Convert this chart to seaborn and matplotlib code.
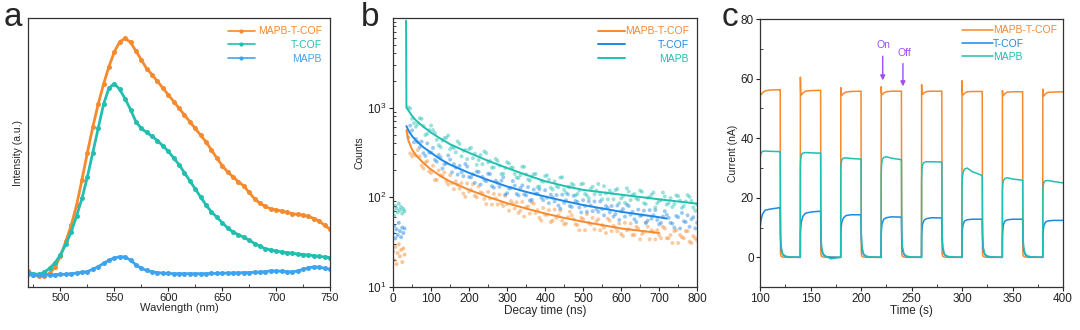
import numpy as np
import pandas as pd
import matplotlib
matplotlib.use("Agg")
import matplotlib.pyplot as plt
import seaborn as sns
from matplotlib.ticker import MultipleLocator, LogLocator, NullFormatter
from matplotlib.lines import Line2D

# ---------------- data: panel a (PL spectra) ----------------
wavelength = list(range(470, 751, 5))
pl_mapb_tcof = [0.060, 0.045, 0.040, 0.042, 0.052, 0.075, 0.115, 0.170, 0.230, 0.305, 0.400,
                0.500, 0.595, 0.680, 0.755, 0.820, 0.875, 0.912, 0.925, 0.910, 0.878, 0.845,
                0.812, 0.790, 0.765, 0.740, 0.715, 0.690, 0.665, 0.640, 0.615, 0.590, 0.565,
                0.540, 0.510, 0.480, 0.452, 0.428, 0.410, 0.392, 0.376, 0.352, 0.328, 0.312,
                0.300, 0.291, 0.287, 0.283, 0.278, 0.273, 0.270, 0.268, 0.263, 0.255, 0.245,
                0.230, 0.215]
pl_tcof = [0.054, 0.050, 0.047, 0.055, 0.070, 0.090, 0.120, 0.160, 0.205, 0.265, 0.330,
           0.410, 0.500, 0.590, 0.680, 0.740, 0.757, 0.735, 0.700, 0.660, 0.615, 0.590,
           0.575, 0.560, 0.545, 0.525, 0.505, 0.480, 0.455, 0.425, 0.395, 0.365, 0.335,
           0.305, 0.280, 0.260, 0.240, 0.220, 0.205, 0.195, 0.185, 0.175, 0.162, 0.152,
           0.143, 0.138, 0.134, 0.131, 0.128, 0.126, 0.123, 0.121, 0.119, 0.117, 0.114,
           0.112, 0.110]
pl_mapb = [0.047, 0.045, 0.045, 0.045, 0.045, 0.046, 0.047, 0.048, 0.050, 0.052, 0.055,
           0.058, 0.066, 0.076, 0.088, 0.100, 0.108, 0.113, 0.112, 0.100, 0.083, 0.070,
           0.062, 0.057, 0.054, 0.052, 0.051, 0.050, 0.050, 0.050, 0.050, 0.050, 0.050,
           0.050, 0.051, 0.051, 0.052, 0.052, 0.053, 0.053, 0.054, 0.054, 0.055, 0.056,
           0.058, 0.060, 0.060, 0.059, 0.057, 0.057, 0.060, 0.066, 0.072, 0.075, 0.074,
           0.070, 0.066]

# ---------------- data: panel b (TRPL decay) ----------------
pre_t = [0, 3, 6, 9, 12, 15, 18, 21, 24, 27, 30]
pre_mapb = [70, 62, 80, 75, 68, 85, 72, 78, 66, 74, 70]
pre_tcof = [40, 48, 35, 44, 38, 52, 42, 36, 46, 40, 45]
pre_mapb_tcof = [25, 20, 28, 18, 24, 30, 22, 26, 19, 27, 23]

decay_t = list(range(40, 801, 10))
decay_mapb = [1004, 749, 612, 759, 622, 509, 630, 520, 381, 427, 461, 343, 353, 419, 286, 336,
              344, 273, 230, 296, 325, 245, 214, 268, 226, 183, 246, 213, 182, 164, 219, 180,
              153, 181, 130, 153, 172, 157, 122, 133, 166, 121, 131, 142, 105, 119, 142, 105,
              124, 108, 141, 95, 111, 119, 95, 124, 97, 87, 116, 106, 97, 119, 86, 99, 107, 77,
              91, 113, 83, 98, 84, 103, 76, 90, 101, 77, 83]
decay_tcof = [465, 557, 447, 361, 310, 399, 316, 261, 296, 209, 239, 263, 234, 179, 190, 235,
              168, 180, 193, 139, 156, 183, 133, 153, 131, 167, 111, 127, 135, 105, 136, 105,
              92, 122, 110, 99, 120, 86, 99, 106, 75, 87, 108, 78, 91, 77, 93, 69, 81, 90, 69,
              74, 80, 68, 61, 81, 70, 61, 80, 69, 53, 62, 71, 55, 58, 72, 50, 61, 64, 52, 46,
              60, 67, 53, 47, 60, 52]
decay_mapb_tcof = [529, 286, 292, 286, 209, 253, 186, 156, 199, 172, 150, 177, 123, 138, 144,
                   101, 116, 140, 100, 114, 96, 115, 83, 97, 107, 80, 84, 91, 75, 67, 89, 77,
                   66, 85, 72, 55, 64, 72, 55, 59, 71, 50, 60, 63, 50, 43, 57, 65, 50, 44, 57,
                   49, 40, 55, 48, 42, 39, 52, 44, 38, 47, 34, 41, 47, 43, 34, 38, 47, 35, 38,
                   42, 31, 36, 42, 32, 37, 33]

decay_t2 = list(range(45, 796, 10))
decay_mapb2 = [972, 671, 656, 749, 494, 561, 561, 437, 362, 456, 489, 366, 317, 393, 330, 266,
               356, 306, 260, 234, 311, 254, 215, 254, 181, 212, 238, 214, 166, 177, 219, 158,
               169, 182, 132, 149, 176, 128, 150, 129, 167, 112, 129, 137, 109, 140, 109, 98,
               131, 119, 108, 133, 95, 111, 120, 86, 103, 126, 93, 109, 94, 115, 84, 100, 113,
               86, 93, 102, 86, 78, 105, 92, 80, 106, 91, 71]
decay_tcof2 = [629, 410, 411, 417, 289, 314, 355, 249, 278, 233, 293, 190, 214, 224, 172, 220,
               167, 145, 192, 169, 151, 182, 128, 145, 153, 107, 125, 152, 109, 127, 108, 130,
               94, 110, 123, 93, 99, 107, 90, 81, 107, 93, 80, 104, 89, 68, 80, 90, 70, 74, 90,
               63, 76, 80, 65, 56, 74, 83, 64, 57, 73, 63, 52, 72, 63, 56, 52, 70, 59, 51, 62,
               45, 54, 63, 57, 45]
decay_mapb_tcof2 = [308, 305, 336, 225, 244, 195, 225, 156, 176, 189, 139, 144, 151, 125, 110,
                    143, 121, 104, 132, 111, 84, 97, 109, 83, 86, 104, 71, 85, 88, 71, 61, 79,
                    88, 67, 59, 76, 64, 53, 73, 63, 55, 51, 69, 57, 49, 59, 43, 52, 59, 54, 43,
                    46, 58, 42, 46, 51, 37, 43, 51, 38, 45, 39, 52, 34, 41, 43, 35, 45, 35, 31,
                    43, 38, 35, 42, 31, 35]

fit_t_mapb = [34, 35, 40, 50, 60, 80, 100, 125, 150, 200, 250, 300, 350, 400, 450, 500, 600, 700, 800]
fit_mapb = [9300, 1000, 930, 805, 720, 610, 525, 450, 390, 313, 255, 212, 178, 151, 134, 121, 107, 95, 85]
fit_t_tcof = [35, 40, 50, 60, 80, 100, 125, 150, 200, 250, 300, 350, 400, 450, 500, 600, 700, 720]
fit_tcof = [622, 560, 480, 430, 360, 313, 265, 231, 187, 156, 132, 115, 102, 91, 82, 69, 60, 58]
fit_t_mt = [35, 40, 50, 60, 80, 100, 125, 150, 200, 250, 300, 350, 400, 450, 500, 600, 700]
fit_mt = [560, 430, 340, 295, 240, 204, 172, 150, 121, 101, 86, 75, 66, 59, 53.5, 45, 40]

# ---------------- data: panel c (photocurrent) ----------------
on_starts = [100, 140, 180, 220, 260, 300, 340, 380]
on_rel_t = [0, 0.3, 1.0, 2.5, 5.0, 10.0, 19.9]
off_rel_t = [20.0, 20.3, 21.0, 22.5, 25.0, 30.0, 39.9]

pc_mt_on = [[59.0, 55.0, 54.6, 55.3, 55.9, 56.2, 56.3],
            [60.5, 55.0, 54.5, 55.2, 55.8, 56.0, 56.1],
            [57.0, 55.0, 54.4, 55.0, 55.5, 55.7, 55.8],
            [57.3, 55.0, 54.6, 55.2, 55.6, 55.8, 55.8],
            [58.0, 55.2, 54.7, 55.3, 55.7, 55.8, 55.8],
            [59.3, 55.0, 54.5, 55.1, 55.6, 55.7, 55.7],
            [56.0, 54.8, 54.3, 55.0, 55.5, 55.6, 55.6],
            [56.5, 54.8, 54.2, 54.9, 55.4, 55.5, 55.6]]
pc_mt_off = [[56.3, 1.0, 0.3, 0.1, 0.0, 0.0, 0.0],
             [56.1, 1.0, 0.3, 0.1, 0.0, 0.0, 0.0],
             [55.8, 1.0, 0.3, 0.1, 0.0, 0.0, 0.0],
             [55.8, 1.0, 0.3, 0.1, 0.0, 0.0, 0.0],
             [55.8, 1.0, 0.3, 0.1, 0.0, 0.0, 0.0],
             [55.7, 1.0, 0.3, 0.1, 0.0, 0.0, 0.0],
             [55.6, 1.0, 0.3, 0.1, 0.0, 0.0, 0.0]]
pc_tcof_on = [[9.0, 10.5, 12.5, 14.5, 15.8, 16.2, 16.7],
              [8.0, 10.0, 12.0, 13.8, 14.8, 15.2, 15.5],
              [8.0, 9.8, 11.8, 13.2, 14.0, 14.3, 14.3],
              [7.5, 9.5, 11.5, 12.8, 13.3, 13.6, 13.5],
              [7.5, 9.3, 11.2, 12.5, 13.0, 13.3, 13.2],
              [7.0, 9.0, 11.0, 12.2, 12.6, 12.8, 12.8],
              [7.0, 9.0, 11.0, 12.2, 12.6, 12.8, 12.8],
              [6.8, 8.8, 10.5, 11.8, 12.2, 12.4, 12.4]]
pc_tcof_off = [[16.7, 6.0, 2.5, 0.9, 0.3, 0.05, 0.0],
               [15.5, 6.0, 2.5, 0.9, 0.3, 0.05, 0.0],
               [14.3, 6.0, 2.5, 0.9, 0.3, 0.05, 0.0],
               [13.5, 6.0, 2.5, 0.9, 0.3, 0.05, 0.0],
               [13.2, 6.0, 2.5, 0.9, 0.3, 0.05, 0.0],
               [12.8, 6.0, 2.5, 0.9, 0.3, 0.05, 0.0],
               [12.8, 6.0, 2.5, 0.9, 0.3, 0.05, 0.0]]
pc_mapb_on = [[30.0, 33.5, 35.0, 35.6, 35.7, 35.6, 35.5],
              [30.0, 33.0, 34.5, 35.0, 35.2, 35.1, 35.0],
              [29.0, 31.5, 32.8, 33.3, 33.4, 33.2, 33.0],
              [28.0, 31.0, 32.8, 33.5, 33.8, 33.3, 32.8],
              [26.0, 29.5, 31.2, 31.9, 32.1, 32.1, 32.0],
              [24.0, 26.5, 28.5, 29.6, 30.0, 28.8, 27.5],
              [22.0, 24.5, 25.8, 26.5, 26.7, 26.3, 25.9],
              [21.0, 24.0, 25.2, 25.7, 25.8, 25.5, 25.0]]
pc_mapb_off = [[35.5, 8.0, 3.5, 1.2, 0.4, 0.1, 0.0],
               [35.0, 8.0, 3.5, 1.2, 0.4, -0.5, 0.0],
               [33.0, 8.0, 3.5, 1.2, 0.4, 0.1, 0.0],
               [32.8, 8.0, 3.5, 1.2, 0.4, 0.1, 0.0],
               [32.0, 8.0, 3.5, 1.2, 0.4, 0.1, 0.0],
               [27.5, 8.0, 3.5, 1.2, 0.4, 0.1, 0.0],
               [25.9, 8.0, 3.5, 1.2, 0.4, 0.1, 0.0]]

labels = ["MAPB-T-COF", "T-COF", "MAPB"]

# ---------------- style ----------------
sns.set_style("ticks")
plt.rcParams["font.family"] = ["Liberation Sans", "DejaVu Sans"]
plt.rcParams["axes.linewidth"] = 0.9

C_OR = "#F58A2E"
C_TE = "#22BFB0"
C_BL_A = "#3FA4F0"
C_BL = "#1E88E5"

fig = plt.figure(figsize=(10.8, 3.3), dpi=100)
axa = fig.add_axes([0.026, 0.130, 0.2796, 0.815])
axb = fig.add_axes([0.364, 0.130, 0.2815, 0.815])
axc = fig.add_axes([0.7037, 0.130, 0.2806, 0.812])


def right_align_legend(ax, leg):
    fig.canvas.draw()
    texts = leg.get_texts()
    bbs = [t.get_window_extent() for t in texts]
    xr = max(b.x1 for b in bbs)
    inv = ax.transAxes.inverted()
    for t, b in zip(texts, bbs):
        x, y = inv.transform((xr, (b.y0 + b.y1) / 2))
        ax.text(x, y, t.get_text(), color=t.get_color(), fontsize=t.get_fontsize(),
                ha="right", va="center", transform=ax.transAxes)
        t.set_visible(False)


# ---------------- panel a ----------------
dfa = pd.DataFrame({"wl": wavelength, "mt": pl_mapb_tcof, "tc": pl_tcof, "mp": pl_mapb})
for col, c in (("mt", C_OR), ("tc", C_TE), ("mp", C_BL_A)):
    sns.lineplot(data=dfa, x="wl", y=col, ax=axa, color=c, lw=2.0, marker="o",
                 markersize=3.6, markeredgewidth=0, legend=False)
axa.set_xlim(470, 750)
axa.set_ylim(0, 1)
axa.set_yticks([])
axa.xaxis.set_major_locator(MultipleLocator(50))
axa.xaxis.set_minor_locator(MultipleLocator(25))
axa.set_xlabel("Wavlength (nm)", fontsize=8, labelpad=0)
axa.set_ylabel("Intensity (a.u.)", fontsize=7.5, labelpad=4)
ha = [Line2D([], [], color=c, lw=1.2, marker="o", markersize=3, markeredgewidth=0)
      for c in (C_OR, C_TE, C_BL_A)]
leg_a = axa.legend(ha, labels, loc="upper right", frameon=False, fontsize=7.5, numpoints=1,
                   handlelength=2.6, handletextpad=0.3, labelspacing=0.35,
                   labelcolor="linecolor", borderaxespad=0.4)

# ---------------- panel b ----------------
for t, y, c in ((pre_t, pre_mapb_tcof, C_OR), (pre_t, pre_tcof, C_BL), (pre_t, pre_mapb, C_TE)):
    sns.scatterplot(x=t, y=y, ax=axb, color=c, s=8, alpha=0.5, edgecolor="none", legend=False)
for y, y2, c in ((decay_mapb_tcof, decay_mapb_tcof2, C_OR), (decay_tcof, decay_tcof2, C_BL),
                 (decay_mapb, decay_mapb2, C_TE)):
    sns.scatterplot(x=decay_t, y=y, ax=axb, color=c, s=8, alpha=0.45, edgecolor="none", legend=False)
    sns.scatterplot(x=decay_t2, y=y2, ax=axb, color=c, s=8, alpha=0.45, edgecolor="none", legend=False)
sns.lineplot(x=fit_t_mt, y=fit_mt, ax=axb, color=C_OR, lw=1.4, label=labels[0])
sns.lineplot(x=fit_t_tcof, y=fit_tcof, ax=axb, color=C_BL, lw=1.4, label=labels[1])
sns.lineplot(x=fit_t_mapb, y=fit_mapb, ax=axb, color=C_TE, lw=1.4, label=labels[2])
axb.set_yscale("log")
axb.set_xlim(0, 800)
axb.set_ylim(10, 9900)
axb.yaxis.set_major_locator(LogLocator(base=10, numticks=10))
axb.yaxis.set_minor_locator(LogLocator(base=10, subs=np.arange(2, 10), numticks=10))
axb.yaxis.set_minor_formatter(NullFormatter())
axb.xaxis.set_major_locator(MultipleLocator(100))
axb.xaxis.set_minor_locator(MultipleLocator(50))
axb.set_xlabel("Decay time (ns)", fontsize=8.5, labelpad=0)
axb.set_ylabel("Counts", fontsize=7.5, labelpad=2)
leg_b = axb.legend(loc="upper right", frameon=False, fontsize=7.5, handlelength=2.6,
                   handletextpad=0.0, labelspacing=0.35, labelcolor="linecolor",
                   borderaxespad=0.4)

# ---------------- panel c ----------------
def build(on_vals, off_vals):
    ts, vs = [], []
    for k, s in enumerate(on_starts):
        ts += [s + r for r in on_rel_t]
        vs += on_vals[k]
        if k < len(off_vals):
            ts += [s + r for r in off_rel_t]
            vs += off_vals[k]
    return ts, vs

for on_v, off_v, c, lab in ((pc_mt_on, pc_mt_off, C_OR, labels[0]),
                            (pc_tcof_on, pc_tcof_off, C_BL, labels[1]),
                            (pc_mapb_on, pc_mapb_off, C_TE, labels[2])):
    ts, vs = build(on_v, off_v)
    sns.lineplot(x=ts, y=vs, ax=axc, color=c, lw=1.1, label=lab, sort=False, estimator=None)
axc.set_xlim(100, 400)
axc.set_ylim(-10, 80)
axc.xaxis.set_major_locator(MultipleLocator(50))
axc.xaxis.set_minor_locator(MultipleLocator(25))
axc.yaxis.set_major_locator(MultipleLocator(20))
axc.yaxis.set_minor_locator(MultipleLocator(10))
axc.set_xlabel("Time (s)", fontsize=8.5, labelpad=0)
axc.set_ylabel("Current (nA)", fontsize=7.5, labelpad=2)
axc.legend(loc="upper right", frameon=False, fontsize=7.5, handlelength=3.0,
           handletextpad=0.0, labelspacing=0.3, labelcolor="linecolor", borderaxespad=0.2)
PURPLE = "#A24BF2"
axc.annotate("", xy=(221.5, 58.5), xytext=(221.5, 68.5),
             arrowprops=dict(arrowstyle="-|>", color=PURPLE, lw=1.0, mutation_scale=7))
axc.annotate("", xy=(241.5, 56.5), xytext=(241.5, 66.0),
             arrowprops=dict(arrowstyle="-|>", color=PURPLE, lw=1.0, mutation_scale=7))
axc.text(222, 69.5, "On", color=PURPLE, fontsize=7.5, ha="center", va="bottom")
axc.text(243, 67.0, "Off", color=PURPLE, fontsize=7.5, ha="center", va="bottom")

for ax, ls in ((axa, 8), (axb, 8.5), (axc, 8.5)):
    for sp in ax.spines.values():
        sp.set_visible(True)
        sp.set_color("#333333")
    ax.tick_params(axis="both", which="major", direction="out", length=3, width=0.8,
                   labelsize=ls, pad=1.5, colors="#222222")
    ax.tick_params(axis="both", which="minor", direction="in", length=2.0, width=0.6)
    ax.tick_params(top=False, right=False, which="both")

fig.text(0.003, 0.995, "a", fontsize=24, va="top", ha="left")
fig.text(0.334, 0.995, "b", fontsize=24, va="top", ha="left")
fig.text(0.668, 0.995, "c", fontsize=24, va="top", ha="left")

right_align_legend(axa, leg_a)
right_align_legend(axb, leg_b)

fig.savefig("out.png", dpi=100)
